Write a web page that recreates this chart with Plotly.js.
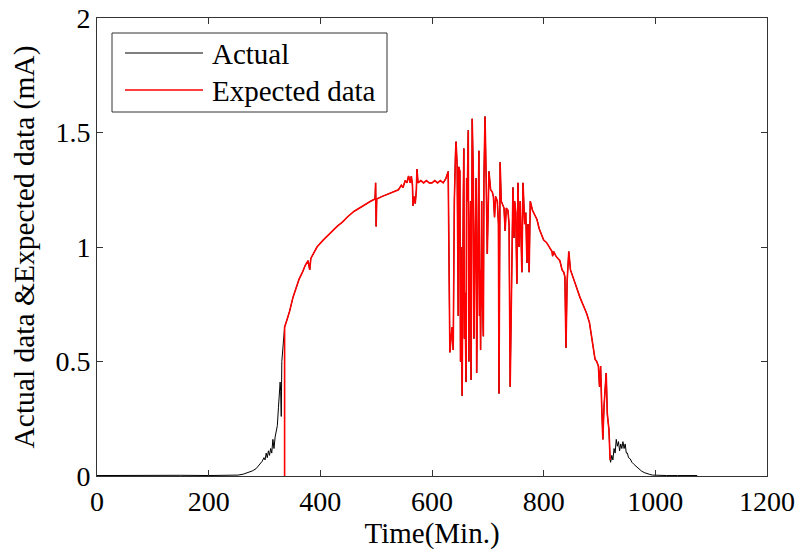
<!DOCTYPE html>
<html>
<head>
<meta charset="utf-8">
<script src="https://cdn.plot.ly/plotly-3.0.1.min.js"></script>
<style>html,body{margin:0;padding:0;background:#fff;}#chart{width:801px;height:552px;}</style>
</head>
<body>
<div id="chart"></div>
<script>
// Actual data before the expected series starts (minutes, mA)
const preTime   = [0, 50, 100, 150, 200, 240, 253, 262, 270, 278, 285, 292, 296, 299, 301, 303, 305, 307, 309, 311, 313, 315, 317, 319, 321, 323, 325, 327, 328, 329, 330, 331, 333, 335];
const preValues = [0.002, 0.003, 0.002, 0.003, 0.002, 0.003, 0.004, 0.008, 0.014, 0.022, 0.032, 0.05, 0.065, 0.08, 0.07, 0.1, 0.08, 0.11, 0.09, 0.12, 0.1, 0.16, 0.12, 0.17, 0.2, 0.22, 0.3, 0.4, 0.41, 0.37, 0.26, 0.5, 0.58, 0.63];

// Section where actual and expected data coincide
const midTime = [336, 340, 345, 351, 356, 362, 368, 373, 378, 381, 383, 388, 394, 405, 417, 430, 440, 448, 460, 476, 490, 498, 499, 500, 501, 510, 520, 530, 540, 545, 548, 552, 555, 558, 561, 563, 565, 566, 568, 570, 572, 573, 575, 580, 585, 590, 595, 600, 605, 610, 615, 620, 625, 629,
  632, 634, 636, 638, 640, 642, 643, 645, 647, 648, 650, 651, 652, 654, 655, 656, 657, 658, 659, 661, 662, 663, 665, 666, 667, 669, 670, 671, 672, 674, 675, 677, 679, 680, 682, 684, 685, 686, 687, 689, 690, 692, 693, 695, 697, 699, 702, 705, 708, 710, 712, 714, 717, 719, 720, 722, 724, 727, 729, 731, 733, 736, 738, 740, 743, 745, 747, 748, 750, 752, 754, 756, 758, 760, 761, 763, 766, 768, 770, 772, 774, 776, 780, 784, 788, 792, 796, 800,
  805, 810, 815, 816, 818, 822, 826, 829, 833, 836, 838, 840, 842, 845, 848, 853, 858, 865, 870, 877, 882, 886, 889, 892, 895, 898, 900, 902, 904, 906, 908, 910, 912, 914, 917, 919];
const midValues = [0.65, 0.68, 0.72, 0.78, 0.82, 0.86, 0.89, 0.92, 0.94, 0.90, 0.95, 0.97, 1.0, 1.03, 1.06, 1.09, 1.11, 1.13, 1.155, 1.18, 1.2, 1.21, 1.28, 1.09, 1.21, 1.22, 1.23, 1.24, 1.25, 1.27, 1.26, 1.29, 1.28, 1.31, 1.28, 1.31, 1.27, 1.18, 1.22, 1.19, 1.25, 1.34, 1.28, 1.29, 1.28, 1.29, 1.28, 1.28, 1.29, 1.28, 1.29, 1.28, 1.3, 1.33,
  0.54, 0.6, 0.65, 0.55, 1.2, 1.4, 1.46, 1.36, 0.7, 1.35, 1.33, 0.5, 1.0, 0.35, 1.1, 1.2, 1.43, 0.6, 0.8, 0.41, 1.3, 1.2, 1.51, 0.5, 0.9, 1.2, 0.42, 1.1, 1.56, 1.31, 0.6, 1.0, 1.3, 0.45, 1.1, 1.42, 0.7, 0.9, 0.55, 1.2, 0.8, 0.61, 1.3, 1.57, 1.3, 0.97, 1.33, 1.25, 1.24, 1.22, 1.13, 1.22, 1.2, 1.1, 0.36, 1.37, 1.2, 1.18, 1.17, 1.07, 1.17, 1.16, 1.1, 0.39, 1.1, 1.26, 1.04, 1.2, 1.15, 0.84, 1.28, 1.0, 1.2, 1.0, 0.89, 1.28, 1.1, 1.15, 0.93, 1.1, 0.89, 1.2, 1.16, 1.14, 1.12, 1.08, 1.05, 1.03,
  1.02, 1.0, 0.98, 0.96, 0.98, 0.96, 0.95, 0.94, 0.9, 0.89, 0.87, 0.56, 0.85, 0.98, 0.9, 0.86, 0.83, 0.78, 0.75, 0.71, 0.67, 0.61, 0.56, 0.51, 0.5, 0.48, 0.39, 0.48, 0.3, 0.16, 0.3, 0.4, 0.45, 0.27, 0.2, 0.07];

// Actual data after the expected series ends
const postTime   = [920, 922, 924, 926, 928, 930, 932, 934, 936, 938, 940, 942, 944, 946, 948, 950, 952, 955, 958, 962, 966, 970, 975, 980, 985, 990, 995, 1000, 1020, 1040, 1060, 1075];
const postValues = [0.06, 0.09, 0.07, 0.12, 0.1, 0.16, 0.13, 0.15, 0.11, 0.14, 0.12, 0.15, 0.12, 0.14, 0.1, 0.1, 0.08, 0.075, 0.06, 0.05, 0.04, 0.03, 0.022, 0.015, 0.01, 0.007, 0.004, 0.003, 0.002, 0.002, 0.002, 0.002];

const actualTime   = preTime.concat(midTime, postTime);
const actualValues = preValues.concat(midValues, postValues);
const expectedTime   = [336].concat(midTime);
const expectedValues = [0].concat(midValues);

const xTicks = [0, 200, 400, 600, 800, 1000, 1200];
const yTicks = [0, 0.5, 1, 1.5, 2];
const seriesNames = ['Actual', 'Expected data'];

const FONT = '"Liberation Serif", "Times New Roman", serif';
const AX = '#333333';

const traces = [
  {x: actualTime, y: actualValues, type: 'scatter', mode: 'lines', name: seriesNames[0],
   line: {color: '#000000', width: 1}},
  {x: expectedTime, y: expectedValues, type: 'scatter', mode: 'lines', name: seriesNames[1],
   line: {color: '#ff0000', width: 1.6}}
];

// paper coords helpers for a MATLAB-style legend box
const L = 97, R = 767, T = 18, B = 476;
const px = v => (v - L) / (R - L);
const py = v => (B - v) / (B - T);

const layout = {
  width: 801, height: 552,
  margin: {l: 97, r: 34, t: 18, b: 76},
  paper_bgcolor: '#ffffff', plot_bgcolor: '#ffffff',
  showlegend: false,
  font: {family: FONT, size: 28, color: '#000'},
  xaxis: {
    range: [0, 1200], tickvals: xTicks, ticktext: xTicks.map(String),
    ticks: 'inside', ticklen: 6, tickcolor: AX, tickwidth: 1,
    showline: true, linecolor: AX, linewidth: 1, mirror: 'ticks',
    showgrid: false, zeroline: false,
    tickfont: {family: FONT, size: 28, color: '#000'},
    title: {text: 'Time(Min.)', font: {family: FONT, size: 29, color: '#000'}, standoff: 3}
  },
  yaxis: {
    range: [0, 2], tickvals: yTicks, ticktext: ['0', '0.5', '1', '1.5', '2'],
    ticks: 'inside', ticklen: 6, tickcolor: AX, tickwidth: 1,
    showline: true, linecolor: AX, linewidth: 1, mirror: 'ticks',
    showgrid: false, zeroline: false,
    tickfont: {family: FONT, size: 28, color: '#000'},
    title: {text: 'Actual data &Expected data (mA)', font: {family: FONT, size: 29.5, color: '#000'}, standoff: 12}
  },
  shapes: [
    {type: 'rect', xref: 'paper', yref: 'paper', x0: px(112), x1: px(387), y0: py(112), y1: py(33),
     line: {color: AX, width: 1}, fillcolor: '#ffffff'},
    {type: 'line', xref: 'paper', yref: 'paper', x0: px(125), x1: px(203), y0: py(53), y1: py(53),
     line: {color: '#000000', width: 1}},
    {type: 'line', xref: 'paper', yref: 'paper', x0: px(125), x1: px(203), y0: py(90), y1: py(90),
     line: {color: '#ff0000', width: 1.4}}
  ],
  annotations: [
    {xref: 'paper', yref: 'paper', x: px(210), y: py(54), xanchor: 'left', yanchor: 'middle',
     text: seriesNames[0], showarrow: false, font: {family: FONT, size: 29, color: '#000'}},
    {xref: 'paper', yref: 'paper', x: px(210), y: py(91), xanchor: 'left', yanchor: 'middle',
     text: seriesNames[1], showarrow: false, font: {family: FONT, size: 29, color: '#000'}}
  ]
};

Plotly.newPlot('chart', traces, layout, {staticPlot: true, displayModeBar: false});
</script>
</body>
</html>
